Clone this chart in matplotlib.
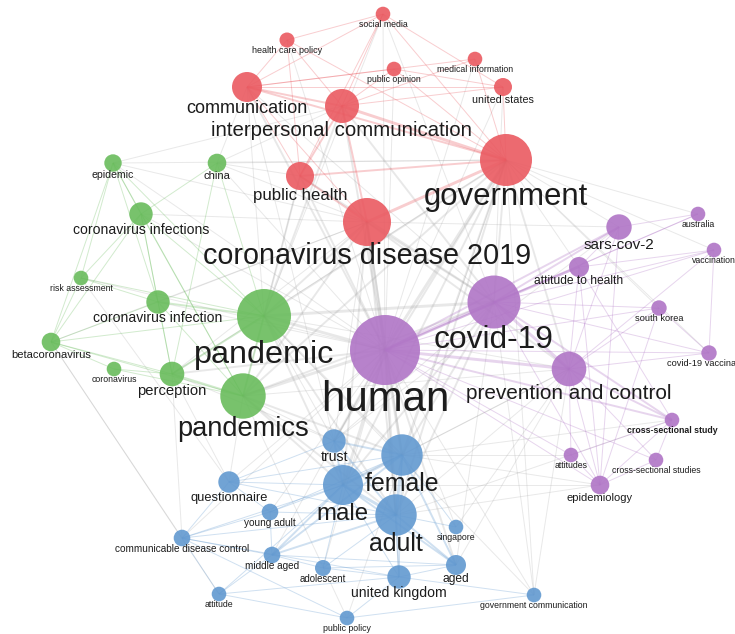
import matplotlib
matplotlib.use('Agg')
import matplotlib.pyplot as plt
from matplotlib.patches import Circle
from matplotlib.collections import LineCollection

plt.rcParams['font.family'] = ['Liberation Sans', 'DejaVu Sans']

# node keys, labels, map coordinates (pixels), circle radius, cluster
keys = ["smedia", "hcp", "comm", "ipc", "popin", "medinf", "us", "gov", "phealth", "cd2019",
        "epidemic", "china", "cinfs", "risk", "cinf", "pandemic", "beta", "corona", "percep", "pandemics",
        "human", "covid", "sars", "australia", "vacc", "atthealth", "skorea", "cvacc", "prev", "css",
        "attitudes", "csss", "epidem",
        "trust", "female", "male", "adult", "quest", "young", "cdc", "middle", "adol", "singapore",
        "aged", "uk", "attitude", "ppolicy", "govcomm"]
labels = ["social media", "health care policy", "communication", "interpersonal communication",
          "public opinion", "medical information", "united states", "government", "public health",
          "coronavirus disease 2019",
          "epidemic", "china", "coronavirus infections", "risk assessment", "coronavirus infection",
          "pandemic", "betacoronavirus", "coronavirus", "perception", "pandemics",
          "human", "covid-19", "sars-cov-2", "australia", "vaccination", "attitude to health",
          "south korea", "covid-19 vaccination", "prevention and control", "cross-sectional study",
          "attitudes", "cross-sectional studies", "epidemiology",
          "trust", "female", "male", "adult", "questionnaire", "young adult",
          "communicable disease control", "middle aged", "adolescent", "singapore", "aged",
          "united kingdom", "attitude", "public policy", "government communication"]
node_x = [383, 287, 247, 342, 394, 475, 503, 506, 300, 367,
          113, 217, 141, 81, 158, 264, 51, 114, 172, 243,
          385, 494, 619, 698, 714, 579, 659, 709, 569, 672, 571, 656, 600,
          334, 402, 343, 396, 229, 270, 182, 272, 323, 456, 456, 399, 219, 347, 534]
node_y = [14, 40, 87, 106, 69, 59, 87, 160, 176, 222,
          163, 163, 214, 278, 302, 316, 342, 369, 374, 396,
          350, 302, 227, 214, 250, 267, 308, 353, 369, 420, 455, 460, 485,
          441, 455, 485, 515, 482, 512, 538, 555, 568, 527, 565, 577, 594, 618, 595]
node_r = [7.3, 7.5, 15, 17, 7.3, 7.3, 9, 26, 14, 24,
          8.7, 9.3, 11.7, 7.3, 11.7, 27, 9.3, 7.3, 12.3, 22.7,
          35, 26.5, 12.7, 7.3, 7.3, 10, 7.7, 7.7, 17.3, 7.3, 7.3, 7.3, 9.3,
          11.7, 20.7, 20, 20.7, 10.7, 8.3, 8.3, 8.3, 8, 7.3, 10, 11.7, 7.3, 7.3, 7.3]
node_cluster = [0] * 10 + [1] * 10 + [2] * 13 + [3] * 15

cluster_colors = ['#ea5a61', '#69bc5c', '#b075c6', '#6299d0']

# co-occurrence links: (node, node, strength)
links = [
    # cluster 1
    ("smedia", "comm", 1), ("smedia", "ipc", 1), ("smedia", "gov", 1), ("smedia", "us", 1),
    ("smedia", "hcp", 1), ("smedia", "phealth", 1), ("hcp", "comm", 1), ("hcp", "ipc", 1),
    ("hcp", "phealth", 1), ("hcp", "gov", 1), ("popin", "comm", 1), ("popin", "ipc", 1),
    ("popin", "gov", 1), ("popin", "us", 1), ("medinf", "ipc", 1), ("medinf", "gov", 1),
    ("medinf", "comm", 1), ("us", "gov", 1), ("us", "ipc", 1), ("us", "comm", 1),
    ("comm", "ipc", 2), ("comm", "gov", 2), ("comm", "phealth", 1), ("comm", "cd2019", 1),
    ("ipc", "gov", 3), ("ipc", "phealth", 2), ("ipc", "cd2019", 2), ("gov", "phealth", 2),
    ("gov", "cd2019", 3), ("phealth", "cd2019", 2),
    # cluster 2
    ("epidemic", "cinfs", 1), ("epidemic", "cinf", 1), ("epidemic", "pandemic", 1),
    ("epidemic", "risk", 1), ("epidemic", "beta", 1), ("epidemic", "pandemics", 1),
    ("china", "cinfs", 1), ("china", "pandemic", 1), ("china", "percep", 1),
    ("cinfs", "cinf", 1), ("cinfs", "pandemic", 1), ("cinfs", "risk", 1), ("cinfs", "beta", 1),
    ("cinfs", "pandemics", 1), ("risk", "beta", 1), ("risk", "cinf", 1), ("risk", "pandemic", 1),
    ("cinf", "pandemic", 2), ("cinf", "beta", 1), ("cinf", "pandemics", 1), ("cinf", "percep", 1),
    ("pandemic", "pandemics", 2), ("pandemic", "percep", 2), ("pandemic", "beta", 1),
    ("pandemics", "percep", 2), ("pandemics", "beta", 1), ("pandemics", "corona", 1),
    ("corona", "beta", 1), ("corona", "percep", 1), ("beta", "percep", 1), ("percep", "cinfs", 1),
    # cluster 3
    ("human", "covid", 4), ("human", "prev", 3), ("human", "sars", 2), ("human", "atthealth", 2),
    ("human", "epidem", 1), ("human", "css", 2), ("human", "attitudes", 1), ("human", "skorea", 1),
    ("human", "vacc", 1), ("human", "cvacc", 1), ("human", "csss", 1),
    ("covid", "sars", 2), ("covid", "atthealth", 2), ("covid", "prev", 3), ("covid", "vacc", 1),
    ("covid", "australia", 1), ("covid", "skorea", 1), ("covid", "css", 2), ("covid", "cvacc", 1),
    ("covid", "epidem", 1), ("sars", "australia", 1), ("sars", "prev", 1), ("sars", "atthealth", 1),
    ("sars", "epidem", 1), ("vacc", "cvacc", 1), ("vacc", "atthealth", 1), ("vacc", "prev", 1),
    ("atthealth", "prev", 1), ("atthealth", "css", 1), ("atthealth", "epidem", 1),
    ("skorea", "prev", 1), ("skorea", "cvacc", 1), ("skorea", "epidem", 1),
    ("prev", "css", 2), ("prev", "epidem", 1), ("prev", "attitudes", 1), ("prev", "cvacc", 1),
    ("css", "attitudes", 1), ("css", "csss", 1), ("css", "epidem", 1),
    ("attitudes", "epidem", 1), ("csss", "epidem", 1), ("csss", "prev", 1),
    # cluster 4
    ("trust", "female", 2), ("trust", "male", 2), ("trust", "adult", 2), ("trust", "quest", 1),
    ("female", "male", 3), ("female", "adult", 3), ("female", "aged", 2), ("female", "singapore", 1),
    ("female", "quest", 1), ("female", "middle", 2), ("female", "young", 1), ("female", "uk", 1),
    ("male", "adult", 3), ("male", "quest", 1), ("male", "young", 1), ("male", "middle", 2),
    ("male", "adol", 1), ("male", "cdc", 1), ("male", "aged", 2), ("male", "uk", 1), ("male", "attitude", 1),
    ("adult", "aged", 2), ("adult", "singapore", 1), ("adult", "uk", 2), ("adult", "middle", 2),
    ("adult", "young", 1), ("adult", "adol", 1), ("adult", "quest", 1), ("adult", "cdc", 1),
    ("quest", "young", 1), ("quest", "cdc", 1), ("cdc", "middle", 1), ("cdc", "attitude", 1),
    ("cdc", "young", 1), ("cdc", "ppolicy", 1), ("cdc", "uk", 1), ("middle", "aged", 1),
    ("middle", "adol", 1), ("middle", "young", 1), ("adol", "aged", 1), ("adol", "uk", 1),
    ("uk", "aged", 1), ("uk", "ppolicy", 1), ("uk", "govcomm", 1), ("attitude", "ppolicy", 1),
    ("attitude", "middle", 1), ("attitude", "uk", 1), ("ppolicy", "govcomm", 1),
    # between clusters
    ("human", "gov", 3), ("human", "cd2019", 3), ("human", "pandemic", 3), ("human", "pandemics", 3),
    ("human", "female", 3), ("human", "male", 3), ("human", "adult", 3), ("human", "phealth", 2),
    ("human", "comm", 2), ("human", "ipc", 2), ("human", "trust", 2), ("human", "quest", 1),
    ("human", "aged", 2), ("human", "uk", 1), ("human", "middle", 1), ("human", "percep", 2),
    ("human", "cinf", 1), ("human", "cinfs", 1), ("human", "epidemic", 1), ("human", "china", 1),
    ("human", "young", 1), ("human", "adol", 1), ("human", "cdc", 1), ("human", "singapore", 1),
    ("human", "smedia", 1), ("human", "us", 1), ("human", "hcp", 1), ("human", "popin", 1),
    ("human", "medinf", 1), ("human", "risk", 1), ("human", "australia", 1), ("human", "govcomm", 1),
    ("covid", "gov", 2), ("covid", "cd2019", 2), ("covid", "pandemic", 3), ("covid", "pandemics", 2),
    ("covid", "female", 2), ("covid", "male", 2), ("covid", "adult", 2), ("covid", "phealth", 2),
    ("covid", "comm", 1), ("covid", "ipc", 2), ("covid", "trust", 1), ("covid", "aged", 1),
    ("covid", "govcomm", 1), ("covid", "us", 1), ("covid", "smedia", 1),
    ("pandemic", "gov", 2), ("pandemic", "cd2019", 2), ("pandemic", "phealth", 2),
    ("pandemic", "comm", 1), ("pandemic", "ipc", 2), ("pandemic", "female", 2), ("pandemic", "male", 2),
    ("pandemic", "adult", 2), ("pandemic", "trust", 1), ("pandemic", "prev", 1), ("pandemic", "smedia", 1),
    ("pandemic", "govcomm", 1),
    ("pandemics", "gov", 2), ("pandemics", "cd2019", 2), ("pandemics", "female", 2),
    ("pandemics", "male", 2), ("pandemics", "adult", 2), ("pandemics", "trust", 1),
    ("pandemics", "quest", 1), ("pandemics", "prev", 1), ("pandemics", "ppolicy", 1),
    ("cd2019", "female", 2), ("cd2019", "male", 2), ("cd2019", "adult", 2), ("cd2019", "cinfs", 1),
    ("cd2019", "cinf", 1), ("cd2019", "epidemic", 1), ("cd2019", "china", 1), ("cd2019", "beta", 1),
    ("cd2019", "percep", 1), ("cd2019", "trust", 1), ("cd2019", "prev", 2), ("cd2019", "sars", 1),
    ("gov", "female", 2), ("gov", "male", 2), ("gov", "adult", 2), ("gov", "trust", 2),
    ("gov", "sars", 1), ("gov", "prev", 2), ("gov", "atthealth", 1), ("gov", "australia", 1),
    ("gov", "vacc", 1), ("gov", "skorea", 1), ("gov", "ppolicy", 1), ("gov", "govcomm", 1),
    ("gov", "percep", 1), ("gov", "china", 1), ("gov", "epidemic", 1),
    ("prev", "female", 1), ("prev", "male", 1), ("prev", "adult", 1),
    ("epidem", "female", 1), ("epidem", "adult", 1), ("epidem", "male", 1),
    ("female", "attitudes", 1), ("adult", "css", 1), ("comm", "trust", 1), ("comm", "china", 1),
    ("phealth", "china", 1), ("phealth", "pandemics", 1), ("ipc", "china", 1), ("ipc", "epidemic", 1),
    ("beta", "attitude", 1), ("beta", "cdc", 1), ("percep", "quest", 1), ("percep", "cdc", 1),
    ("percep", "trust", 1), ("risk", "quest", 1), ("trust", "sars", 1), ("aged", "prev", 1),
    ("singapore", "prev", 1), ("govcomm", "prev", 1), ("cvacc", "gov", 1), ("css", "female", 1),
]

idx = {k: i for i, k in enumerate(keys)}

fig = plt.figure(figsize=(7.35, 6.34), dpi=100)
ax = fig.add_axes([0, 0, 1, 1])
ax.set_xlim(0, 735)
ax.set_ylim(634, 0)
ax.axis('off')

# links: grey between clusters, cluster colour inside a cluster
grey_segs, grey_w = [], []
col_segs, col_w, col_c = [], [], []
for a, b, w in links:
    i, j = idx[a], idx[b]
    seg = [(node_x[i], node_y[i]), (node_x[j], node_y[j])]
    if node_cluster[i] == node_cluster[j]:
        col_segs.append(seg)
        col_w.append(0.7 * w)
        col_c.append(cluster_colors[node_cluster[i]])
    else:
        grey_segs.append(seg)
        grey_w.append(0.7 * w)

ax.add_collection(LineCollection(grey_segs, colors='#9a9a9a', linewidths=grey_w, alpha=0.22, zorder=1))
ax.add_collection(LineCollection(col_segs, colors=col_c, linewidths=col_w, alpha=0.3, zorder=2))

for i in range(len(keys)):
    r = node_r[i]
    ax.add_patch(Circle((node_x[i], node_y[i]), r, facecolor=cluster_colors[node_cluster[i]],
                        edgecolor='none', alpha=0.9, zorder=3))
    size_px = 1.2 * r
    ax.text(node_x[i], node_y[i] + r + 0.62 * size_px, labels[i],
            fontsize=size_px * 0.72, ha='center', va='baseline', color='#1c1c1c',
            fontweight='bold' if keys[i] == 'css' else 'normal', zorder=4)

fig.savefig('out.png', dpi=100)
